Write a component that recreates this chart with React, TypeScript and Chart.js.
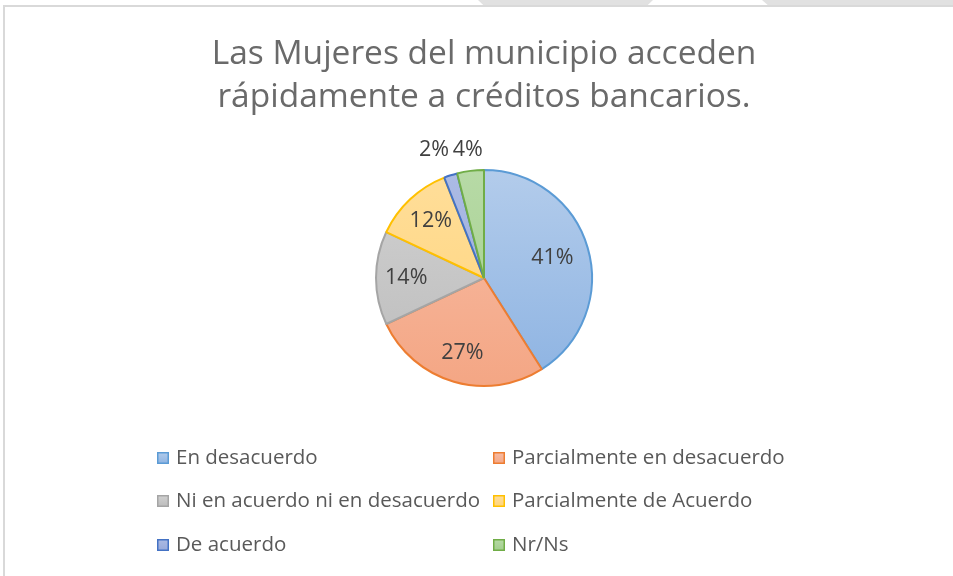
import React, { useEffect, useRef } from "react";
import { Chart, registerables } from "chart.js";

Chart.register(...registerables);

const titleLines = ["Las Mujeres del municipio acceden", "rápidamente a créditos bancarios."];
const categories = [
  "En desacuerdo",
  "Parcialmente en desacuerdo",
  "Ni en acuerdo ni en desacuerdo",
  "Parcialmente de Acuerdo",
  "De acuerdo",
  "Nr/Ns",
];
const values = [41, 27, 14, 12, 2, 4];
const borderColors = ["#5B9BD5", "#ED7D31", "#A5A5A5", "#FFC000", "#4472C4", "#70AD47"];
const fillTop = ["#B3CCEB", "#F7BDA6", "#D1D1D1", "#FFDE9A", "#ACBBE4", "#B7DAA6"];
const fillBottom = ["#8DB3E2", "#F4A684", "#BCBCBC", "#FFD47A", "#97A9DA", "#A2CE8C"];

const FONT = "'Open Sans', 'DejaVu Sans', sans-serif";

function makeGradient(ctx: CanvasRenderingContext2D, top: number, bottom: number, c1: string, c2: string) {
  const g = ctx.createLinearGradient(0, top, 0, bottom);
  g.addColorStop(0, c1);
  g.addColorStop(1, c2);
  return g;
}

const labelPlugin = {
  id: "sliceLabels",
  afterDatasetsDraw(chart: any) {
    const meta = chart.getDatasetMeta(0);
    const ctx: CanvasRenderingContext2D = chart.ctx;
    const data: number[] = chart.data.datasets[0].data;
    const total = data.reduce((a, b) => a + b, 0);
    ctx.save();
    ctx.font = `21.5px ${FONT}`;
    ctx.fillStyle = "#404040";
    ctx.textAlign = "center";
    ctx.textBaseline = "middle";
    meta.data.forEach((arc: any, i: number) => {
      const p = arc.getProps(["x", "y", "startAngle", "endAngle", "outerRadius"], true);
      const mid = (p.startAngle + p.endAngle) / 2;
      const pct = data[i] / total;
      const outside = pct < 0.05;
      const r = outside ? p.outerRadius * 1.2 : p.outerRadius * (pct > 0.3 ? 0.66 : 0.72);
      let lx = p.x + Math.cos(mid) * r;
      let ly = p.y + Math.sin(mid) * r;
      if (outside) {
        // keep outside labels of the top slices on one line, as the original does
        ly = Math.min(ly, p.y - p.outerRadius * 1.185);
        if (i < data.length - 1 && data[i + 1] / total < 0.05) lx -= 10;
      }
      ctx.fillText(Math.round(pct * 100) + "%", lx, ly);
    });
    ctx.restore();
  },
};

const legendPlugin = {
  id: "gridLegend",
  afterDraw(chart: any) {
    const ctx: CanvasRenderingContext2D = chart.ctx;
    const labels: string[] = chart.data.labels;
    const colX = [157, 493];
    const rowY = [458, 501, 545];
    const box = 12;
    ctx.save();
    ctx.font = `20.5px ${FONT}`;
    ctx.textBaseline = "middle";
    ctx.textAlign = "left";
    labels.forEach((lab, i) => {
      const x = colX[i % 2];
      const y = rowY[Math.floor(i / 2)];
      ctx.fillStyle = makeGradient(ctx, y - box / 2, y + box / 2, fillTop[i], fillBottom[i]);
      ctx.fillRect(x, y - box / 2, box, box);
      ctx.strokeStyle = borderColors[i];
      ctx.lineWidth = 1.5;
      ctx.strokeRect(x + 0.75, y - box / 2 + 0.75, box - 1.5, box - 1.5);
      ctx.fillStyle = "#595959";
      ctx.fillText(lab, x + box + 7, y);
    });
    ctx.restore();
  },
};

export default function App() {
  const ref = useRef<HTMLCanvasElement>(null);

  useEffect(() => {
    if (!ref.current) return;
    const chart = new Chart(ref.current, {
      type: "pie",
      data: {
        labels: categories,
        datasets: [
          {
            data: values,
            borderColor: borderColors,
            borderWidth: 2,
            backgroundColor: (c: any) => {
              const ch = c.chart;
              const area = ch.chartArea;
              if (!area) return fillTop[c.dataIndex];
              return makeGradient(ch.ctx, area.top, area.bottom, fillTop[c.dataIndex], fillBottom[c.dataIndex]);
            },
          },
        ],
      },
      options: {
        responsive: false,
        animation: false,
        layout: { padding: { top: 0, bottom: 189, left: 15, right: 0 } },
        plugins: {
          legend: { display: false },
          tooltip: { enabled: false },
          title: {
            display: true,
            text: titleLines,
            color: "#6A6A6A",
            font: { family: FONT, size: 33.5, weight: "normal", lineHeight: 1.284 },
            padding: { top: 33, bottom: 50 },
          },
        },
      },
      plugins: [labelPlugin, legendPlugin],
    });
    return () => chart.destroy();
  }, []);

  return (
    <div style={{ position: "fixed", left: 0, top: 0, width: 953, height: 576, background: "#fff", overflow: "hidden" }}>
      <div style={{ position: "absolute", left: 478, top: 0, width: 175, height: 5, background: "#E1E1E1", clipPath: "polygon(0 0, 100% 0, 97% 100%, 3% 100%)" }} />
      <div style={{ position: "absolute", left: 762, top: 0, width: 191, height: 5, background: "#E1E1E1", clipPath: "polygon(0 0, 100% 0, 100% 100%, 3% 100%)" }} />
      <div style={{ position: "absolute", left: 3, top: 5, width: 950, height: 2, background: "#D9D9D9" }} />
      <div style={{ position: "absolute", left: 3, top: 5, width: 2, height: 571, background: "#D9D9D9" }} />
      <canvas ref={ref} width={953} height={576} style={{ position: "absolute", left: 0, top: 0, width: 953, height: 576 }} />
    </div>
  );
}
